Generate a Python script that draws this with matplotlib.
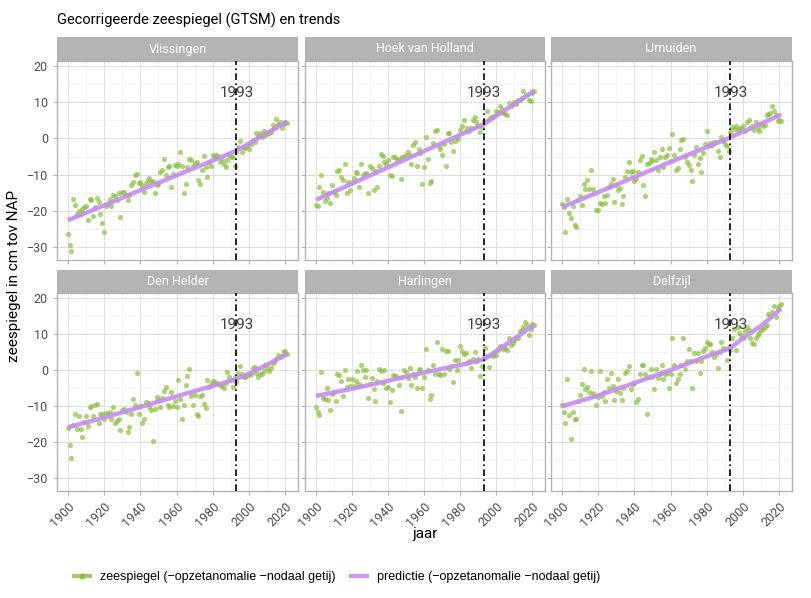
import numpy as np
import matplotlib
matplotlib.use("Agg")
import matplotlib.pyplot as plt
from matplotlib.lines import Line2D

plt.rcParams['font.family'] = ['Roboto', 'DejaVu Sans']

# data: jaargemiddelden 1900-2021
jaren = np.arange(1900, 2022)

stations = ["Vlissingen", "Hoek van Holland", "IJmuiden", "Den Helder", "Harlingen", "Delfzijl"]

vlissingen = [
    -26.3, -29.5, -31, -16.7, -18.4, -21, -20, -21, -19.5, -19,
    -18.8, -22.5, -16.8, -17, -21.4, -19, -16.5, -17.5, -21, -23.5,
    -25.8, -18.8, -18, -16.7, -18.8, -15.6, -16, -17, -15, -21.8,
    -14.7, -14.7, -15.5, -17, -15.6, -12.9, -12, -10, -9.9, -12.3,
    -12, -13, -14.7, -12.3, -11.5, -10.8, -12, -11.7, -15, -12.9,
    -12.5, -9.3, -8.8, -5.6, -10, -7.9, -7.7, -13.5, -9.7, -7.4,
    -7.7, -7, -3.8, -7.5, -15, -12.5, -8, -5.6, -6.1, -7.5,
    -6.8, -6.4, -11.5, -12.6, -8.8, -4.9, -7.9, -10.6, -6.5, -7.5,
    -4.7, -5.5, -4.5, -4.8, -6.5, -6.1, -7, -7.9, -5.9, -4.5,
    -5, -5.2, -7.5, -3.8, -2.5, -0.6, -3.8, -2.3, -2.6, -2,
    -2.9, -1.5, -0.5, -1.1, 1.6, 0.8, 1.4, 0.5, 2.1, 1,
    1.2, 1.5, 1.9, 3.7, 3, 5.5, 3.9, 4.5, 2.8, 4.1, 4.6, 4.2]

hoek_van_holland = [
    -18.4, -18.8, -13.5, -10, -14.7, -17.2, -16.5, -15, -17.9, -12.9,
    -14.7, -15.6, -9, -8.8, -10.6, -11.4, -7, -15.2, -12, -14.3,
    -12, -11, -9.3, -9.5, -13.4, -7.2, -10, -9.9, -9.5, -15.2,
    -7.7, -8.1, -14.3, -9, -13.4, -7.5, -4.3, -4.8, -6.5, -7,
    -6.1, -10.2, -10.4, -5.2, -5, -6, -5.6, -11.1, -5.2, -5.2,
    -4.7, -3.8, -4.5, -7, -1.8, -1.1, -7.5, -2.9, -4, -12.5,
    -7.9, 0.3, -5.6, -12.3, -11.7, -1.2, 2.1, 2.3, -2, -2.9,
    -4.7, -1.5, -7.5, 1.4, 1.6, -1, -3.4, -0.6, 0.3, -0.2,
    2.3, 3.5, 5, 2.1, 2.8, 2.1, 3, 5, 5.9, 4.6,
    3.5, 1.8, 3.2, 4.8, 4.8, 7.7, 5.5, 6, 5.9, 6.2,
    7.7, 7.2, 8.9, 8, 7.1, 6.8, 6.6, 9.8, 8.9, 9.5,
    10.1, 9.4, 10.7, 10.5, 11.2, 13.2, 11.6, 12, 10.7, 10.3, 12.5, 13.2]

ijmuiden = [
    -18.1, -19, -25.9, -16.7, -20.6, -22, -18.6, -23.8, -24.5, -17,
    -15.8, -18.4, -12.5, -14.1, -11.4, -14.1, -8.8, -14.1, -15, -19.7,
    -19.7, -17.9, -18.1, -16, -17.9, -15.6, -13.4, -12.5, -11.3, -17.7,
    -12.9, -14.3, -13.8, -18.1, -15.8, -10.6, -9, -6.5, -9.3, -9,
    -11.8, -11.1, -9.3, -6.1, -4.8, -12.9, -15.9, -7, -6.8, -5.6,
    -6.3, -3.8, -6, -8.8, -5.2, -2.9, -7.9, -5, -4.7, -2.6,
    -6.3, 1.2, -4.5, -8.8, -8.2, -3, -0.5, -0.2, -5.2, -6.5,
    -7.3, -8.8, -11.7, -4.7, -2.5, -7, -5.5, -9.3, -4.1, -1.5,
    2.1, -2, -1.4, -1.8, -1, -1.1, -3.6, -5.2, 0.3, -0.6,
    -1.5, -2, -3.5, 1.9, 3.2, 2.5, 3.5, 2.1, 2.5, 2.8,
    3.5, 2.1, 4.6, 5, 3, 3.5, 2.3, 4.6, 3, 2.1,
    4, 3.5, 3.7, 6.5, 6.8, 7, 8.9, 7.5, 6.6, 4.8, 5, 4.8]

den_helder = [
    -16, -20.7, -24.5, -15.3, -12.3, -16.5, -12.8, -16.5, -18.5, -14.4,
    -12.7, -15.5, -10.3, -10.1, -12.8, -9.6, -9.4, -14.6, -12.3, -12.1,
    -13.7, -11.9, -12.3, -11.7, -13.7, -10.3, -14.6, -14.1, -13.7, -16.6,
    -11.2, -10.7, -11.6, -17.1, -15.9, -12.1, -8, -9.8, -0.7, -12.3,
    -10, -14.8, -13.5, -8.9, -9.2, -10.3, -11, -19.6, -10.7, -7.5,
    -8.3, -10.3, -7.8, -5.7, -4.8, -9.8, -10.3, -6.2, -10.1, -8.5,
    -10.3, -2.8, -8, -13.7, -9.8, -4.1, -1.6, 0.4, -7.1, -9.8,
    -6.8, -12.3, -12.8, -7.1, -6.9, -9.4, -10.5, -2.8, -4.8, -4,
    -3, -3.2, -3.5, -3.9, -4.2, -4.4, -5, -3.7, -0.5, -2,
    -2.8, -4.8, -1.9, -3.2, -0.7, 1.1, -1, -1.9, -1.9, -1.4,
    -1.5, -1.2, 0.6, 0.8, -0.7, -1.9, -1, -1.2, -0.3, 1.4,
    0.5, -0.3, 0.6, 2, 2.3, 3, 4.3, 3.5, 3.8, 5.4, 5, 4.5]

harlingen = [
    -10.3, -11.6, -12.5, -0.5, -7.7, -8, -5, -8.3, -11.2, -6.6,
    -6.2, -8.6, -1, -1.4, -3, -7.3, -0.1, -4.8, -2.5, -4.4,
    -2.5, -4.4, -3, -0.3, -3.9, 1.5, 0, -1.9, -0.1, -7.8,
    -3.9, -2.1, -5.3, -8.6, -3, 0.2, -0.3, -3.5, -0.1, -5,
    -4.6, -8.9, -5.5, -1.4, -1.6, -1.9, -4.1, -11.4, -1.9, -0.1,
    -0.5, -2.1, 0.5, -4.1, -1.2, -2, -5, -0.1, 0.2, -5,
    -1.9, 5.9, -0.1, -8, -6.8, 1.5, -1.2, 7.9, -1, -1.4,
    5.9, -1.2, 5.4, 5.2, 0.2, 1, -3.2, 2.9, -0.1, 2.9,
    6.8, 5.2, 4.5, 4.7, 2, 2.5, 0.6, 3, 4.9, 2.5,
    3, -1.6, 1.1, 3.5, 6.1, 4, 0.8, 4.1, 4, 4.7,
    4.3, 5.5, 6.8, 6.5, 5.9, 6, 5.6, 9, 7, 7.5,
    8.4, 9, 8.8, 10.8, 11.1, 12, 13.4, 12.6, 9.7, 11.5, 12.9, 12.6]

delfzijl = [
    -9.8, -11.6, -14.6, -2.5, -12.5, -19.2, -11.6, -13.5, -13.5, -8.7,
    -6.8, -3.9, 0.2, -5.3, -4.6, -6, -0.3, -6.5, -7.1, -9.8,
    -7.4, -0.3, -7.1, -6, -8.5, -2.5, -5, -0.7, -4.4, -8.3,
    -5.9, -2.5, -6.5, -8.3, -5, -0.7, -0.3, 1.1, -5.3, -4,
    -3.5, -8.9, -8, -1.2, 1.5, 1.4, -1.2, -12.1, -1.9, 0.2,
    -2, -5.3, 0.2, -2.1, -1.2, 1.5, -2.5, -1.2, -0.7, -5,
    -1, 9, 1.5, -3.5, -2.5, -1.2, 1.5, 9, 0.2, 2.5,
    5.9, 2.5, -5, 4.7, 2.5, 4.7, -0.7, 2.5, 5.2, 6.1,
    7.7, 7.2, 7.2, 5, 3.5, 4.5, 0.5, 5, 7.7, 6,
    5.9, 2.9, 6.5, 5.5, 8.8, 11.5, 5.6, 12, 10.2, 9.7,
    9, 10.8, 12, 11, 8.8, 7.5, 7.2, 9, 9.7, 10.2,
    11.1, 11.5, 12, 12.6, 15.6, 15, 16, 17.9, 14.7, 17, 17.9, 18.4]

zeespiegel = [vlissingen, hoek_van_holland, ijmuiden, den_helder, harlingen, delfzijl]

pred_jaren = [1900, 1920, 1940, 1960, 1980, 1993, 2000, 2010, 2021]
pred_vlissingen = [-22.6, -18.5, -14.3, -10.2, -6.1, -3.4, -1.4, 1.5, 4.6]
pred_hoek = [-17, -12.5, -8, -3.5, 1, 3.9, 6.2, 9.5, 13.2]
pred_ijmuiden = [-19, -14.9, -10.7, -6.5, -2.4, 0.3, 1.9, 4.1, 6.6]
pred_den_helder = [-15.9, -13.2, -10.3, -7.3, -4.4, -2.5, -1.0, 1.5, 4.5]
pred_harlingen = [-7.2, -5.2, -3.0, -0.7, 1.4, 2.9, 5.3, 8.7, 12.5]
pred_delfzijl = [-10.1, -7.1, -3.6, 0, 3.8, 6.1, 8.9, 12.3, 17]
predictie = [pred_vlissingen, pred_hoek, pred_ijmuiden, pred_den_helder, pred_harlingen, pred_delfzijl]

groen = '#8cbf3f'
paars = '#c58df0'

W, H = 812, 598
fig = plt.figure(figsize=(W / 100, H / 100), dpi=100)

def px_axes(x0, y0, x1, y1):
    # pixel coordinaten (linksboven) -> figuur fractie
    return fig.add_axes([x0 / W, 1 - y1 / H, (x1 - x0) / W, (y1 - y0) / H])

kolommen = [(57, 298), (305, 545), (551, 792)]
rijen = [(37, 61, 260), (270, 293, 491)]

for i, naam in enumerate(stations):
    r, c = divmod(i, 3)
    x0, x1 = kolommen[c]
    st, pt, pb = rijen[r]

    ax = px_axes(x0, pt, x1, pb)
    ax.set_xlim(1894, 2027)
    ax.set_ylim(-33.6, 21.4)
    ax.set_xticks([1900, 1920, 1940, 1960, 1980, 2000, 2020])
    ax.set_xticks(np.arange(1910, 2030, 20), minor=True)
    ax.set_yticks([-30, -20, -10, 0, 10, 20])
    ax.set_yticks([-25, -15, -5, 5, 15], minor=True)
    ax.grid(which='major', color='#dedede', lw=0.7)
    ax.grid(which='minor', color='#eeeeee', lw=0.5)
    ax.set_axisbelow(True)
    for s in ax.spines.values():
        s.set_color('#b3b3b3')
        s.set_linewidth(1.0)
    ax.tick_params(which='minor', length=0)
    ax.tick_params(which='major', length=3, color='#b3b3b3', labelcolor='#4d4d4d', labelsize=9)
    if c == 0:
        ax.set_yticklabels(['−30', '−20', '−10', '0', '10', '20'])
    else:
        ax.tick_params(axis='y', labelleft=False)
    if r == 1:
        plt.setp(ax.get_xticklabels(), rotation=45, ha='right', rotation_mode='anchor')
    else:
        ax.tick_params(axis='x', labelbottom=False)

    ax.scatter(jaren, zeespiegel[i], s=14, color=groen, alpha=0.7, linewidths=0, zorder=2)
    ax.plot(pred_jaren, predictie[i], color=paars, lw=3.2, alpha=0.9, solid_capstyle='butt', zorder=3)
    ax.axvline(1993, color='black', lw=1.2, ls=(0, (4, 2, 1, 2)), zorder=4)
    ax.text(1993, 12.5, '1993', ha='center', va='center', fontsize=11, color='#404040', zorder=5)

    sax = px_axes(x0, st, x1, pt)
    sax.set_facecolor('#b3b3b3')
    sax.set_xticks([])
    sax.set_yticks([])
    for s in sax.spines.values():
        s.set_visible(False)
    sax.text(0.5, 0.5, naam, ha='center', va='center', fontsize=9, color='white', transform=sax.transAxes)

fig.text(57 / W, 1 - 20 / H, 'Gecorrigeerde zeespiegel (GTSM) en trends', ha='left', va='center',
         fontsize=10.5, color='black')
fig.text(14 / W, 1 - 276 / H, 'zeespiegel in cm tov NAP', rotation=90, ha='center', va='center',
         fontsize=11, color='black')
fig.text(425 / W, 1 - 534 / H, 'jaar', ha='center', va='center', fontsize=11, color='black')

handles = [Line2D([], [], color=groen, lw=3, marker='o', ms=3.5, alpha=0.8),
           Line2D([], [], color=paars, lw=3, alpha=0.9)]
labels = ['zeespiegel (−opzetanomalie −nodaal getij)', 'predictie (−opzetanomalie −nodaal getij)']
fig.legend(handles, labels, loc='center', bbox_to_anchor=(337 / W, 1 - 577 / H), ncol=2, frameon=False,
           handlelength=1.3, columnspacing=1.2, prop={'family': 'Liberation Sans', 'size': 9})

fig.savefig('out.png', dpi=100)
